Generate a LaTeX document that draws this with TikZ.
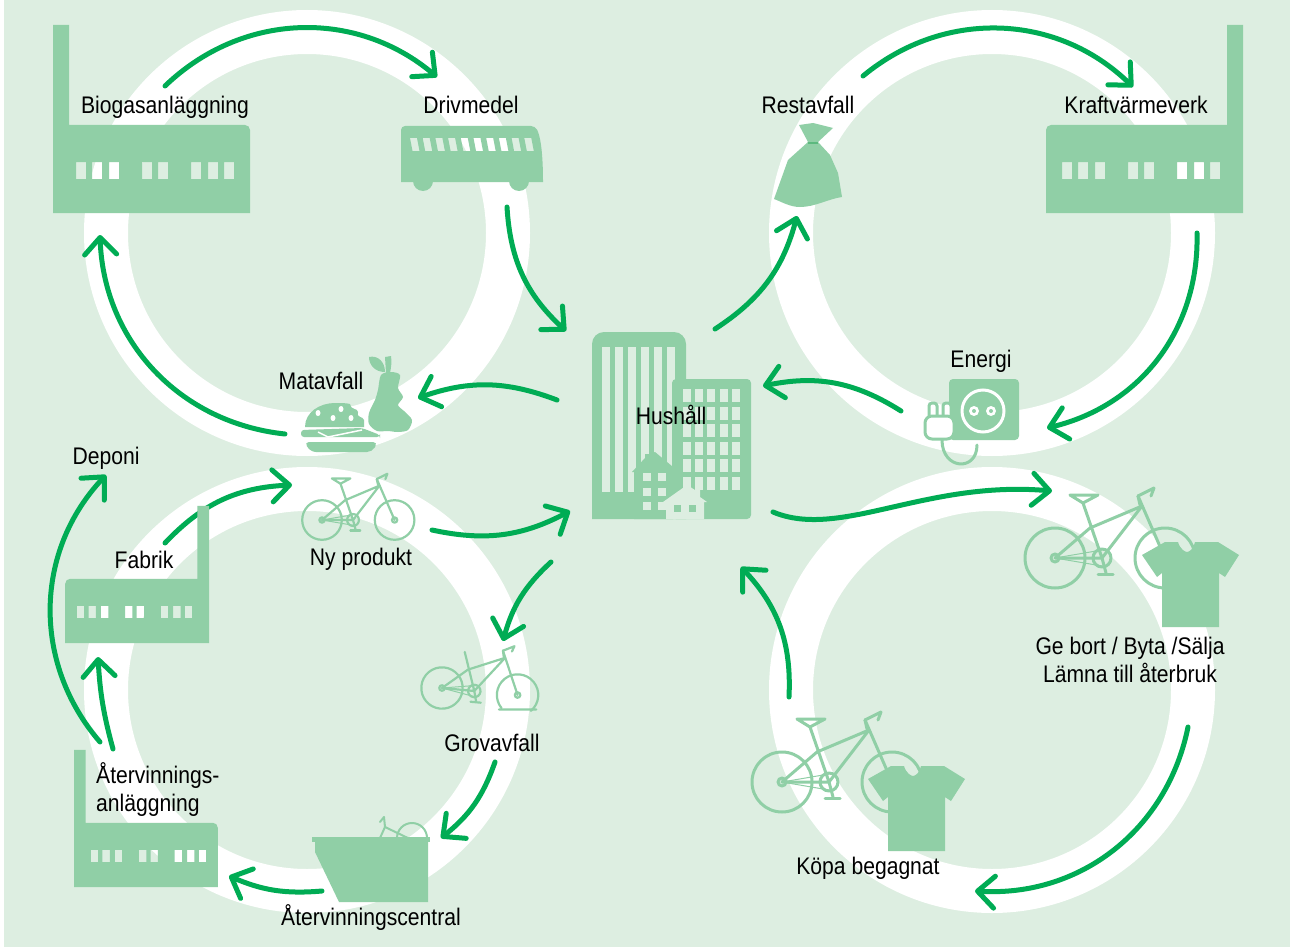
\documentclass[tikz,border=0pt]{standalone}
\usepackage{fontspec}
\setmainfont[FakeStretch=0.88]{Liberation Sans}
\usetikzlibrary{arrows.meta}
\definecolor{bgc}{RGB}{221,238,225}
\definecolor{iconc}{RGB}{144,207,166}
\definecolor{flowc}{RGB}{0,172,84}
\definecolor{tiec}{RGB}{92,185,126}
\tikzset{
	ring/.style={draw=white, line width=44pt},
	flow/.style={->, line width=5pt, line cap=round, line join=round, flowc},
	lbl/.style={inner sep=0pt, anchor=base, black},
	icon/.style={fill=iconc, even odd rule},
	bikeline/.style={draw=iconc, fill=none, line cap=round, line join=round},
	pics/factory/.style={code={
		\fill[icon] (0,0) -- (0,-188) -- (16,-188) -- (16,-88) [rounded corners=5pt] -- (197,-88) [sharp corners] -- (197,0) -- cycle
			\foreach \wx in {23,39,56,89,105,138,155,171} {(\wx,-51) rectangle ++(10,17)};
	}},
	pics/shirt/.style={code={
		\fill[iconc] (20,85) -- (20,31) -- (15,35) -- (0,13) -- (23,0) -- (36,0) .. controls (38,7) and (43,10) .. (45,10) .. controls (47,10) and (52,7) .. (53,0) -- (76,0) -- (97,13) -- (83,35) -- (77,31) -- (77,85) -- cycle;
	}},
	pics/bike/.style={code={
		\bikeframe
		\draw[bikeline] (110,0) circle [radius=30];
		\draw[bikeline] (15,-63) -- (43,-63) -- (28,-55) -- cycle;
	}},
	pics/flatbike/.style={code={
		\bikeframe
		\draw[bikeline] (110,0) ++(135.6:30) arc [start angle=135.6, end angle=404.4, radius=30];
		\draw[bikeline, rotate around={5.3:(110,0)}] (83,21) -- (137,21);
	}},
}
\newcommand{\bikeframe}{
	\draw[bikeline] (0,0) circle [radius=30];
	\draw[bikeline] (47,0) circle [radius=9];
	\draw[bikeline] (0,0) circle [radius=4];
	\draw[bikeline] (110,0) circle [radius=4];
	\draw[bikeline] (28,-55) -- (47,0) -- (87,-52) -- (35,-30) -- (0,0) -- (47,0);
	\draw[bikeline, line width=1pt] (47,-8) -- (0,0) -- (47,8);
	\draw[bikeline] (83,-62) -- (110,0);
	\draw[bikeline] (83,-62) -- (85,-53);
	\draw[bikeline] (83,-62) -- (99,-70) -- (96,-62);
	\draw[bikeline] (47,0) -- (51,15);
	\draw[bikeline] (43,16) -- (58,16);
}
\begin{document}
\begin{tikzpicture}[x=1pt, y=-1pt, >={Straight Barb[length=17pt,width=32pt,round]}]
	\useasboundingbox (0,0) rectangle (1290,947);
	\fill[white] (0,0) rectangle (1290,947);
	\fill[bgc] (4,0) rectangle (1290,947);
	% rings
	\draw[ring] (307,233) circle [radius=201];
	\draw[ring] (992,233) circle [radius=201];
	\draw[ring] (307,690) circle [radius=201];
	\draw[ring] (992,690) circle [radius=201];
	% arrow ends
	\coordinate (biogasOut) at (165,86);
	\coordinate (drivIn) at (437,77);
	\coordinate (drivOut) at (507,207);
	\coordinate (hushIn) at (566,331);
	\coordinate (hushOut) at (557,400);
	\coordinate (matIn) at (418,398);
	\coordinate (matOut) at (285,434);
	\coordinate (biogasIn) at (100,235);
	\coordinate (hushRest) at (715,329);
	\coordinate (restIn) at (797,216);
	\coordinate (restOut) at (863,76);
	\coordinate (kraftIn) at (1133,87);
	\coordinate (kraftOut) at (1197,233);
	\coordinate (energiIn) at (1047,428);
	\coordinate (energiOut) at (901,411);
	\coordinate (hushEnergi) at (763,386);
	\coordinate (hushGe) at (773,512);
	\coordinate (geIn) at (1052,491);
	\coordinate (geOut) at (1188,727);
	\coordinate (kopaIn) at (975,891);
	\coordinate (kopaOut) at (789,697);
	\coordinate (hushKopa) at (741,567);
	\coordinate (nyOut) at (432,530);
	\coordinate (hushNy) at (570,511);
	\coordinate (hushGrov) at (551,562);
	\coordinate (grovIn) at (503,641);
	\coordinate (grovOut) at (495,762);
	\coordinate (centralIn) at (441,838);
	\coordinate (centralOut) at (322,891);
	\coordinate (anlIn) at (229,876);
	\coordinate (anlFabrik) at (113,749);
	\coordinate (fabrikIn) at (98,657);
	\coordinate (anlDeponi) at (100,742);
	\coordinate (deponiIn) at (106,475);
	\coordinate (fabrikOut) at (165,543);
	\coordinate (nyIn) at (292,485);
	% arrows
	\draw[flow] (biogasOut) to[bend left=42] (drivIn);
	\draw[flow] (drivOut) to[bend right=22] (hushIn);
	\draw[flow] (hushOut) to[bend right=20] (matIn);
	\draw[flow] (matOut) to[bend left=41] (biogasIn);
	\draw[flow] (hushRest) to[bend right=21] (restIn);
	\draw[flow] (restOut) to[bend left=42] (kraftIn);
	\draw[flow] (kraftOut) to[bend left=39] (energiIn);
	\draw[flow] (energiOut) to[bend right=22] (hushEnergi);
	\draw[flow] (hushGe) .. controls (840,540) and (925,480) .. (geIn);
	\draw[flow] (geOut) to[bend left=41] (kopaIn);
	\draw[flow] (kopaOut) to[bend right=23] (hushKopa);
	\draw[flow] (nyOut) to[bend right=20] (hushNy);
	\draw[flow] (hushGrov) to[bend right=16] (grovIn);
	\draw[flow] (grovOut) to[bend left=16] (centralIn);
	\draw[flow] (centralOut) to[bend left=14] (anlIn);
	\draw[flow] (anlFabrik) to[bend left=6] (fabrikIn);
	\draw[flow] (anlDeponi) to[bend left=42] (deponiIn);
	\draw[flow] (fabrikOut) to[bend left=22] (nyIn);
	% factories
	\pic at (53,213) {factory};
	\pic[xscale=-1] at (1243,213) {factory};
	\pic[xscale=-0.73, yscale=0.73] at (209,643) {factory};
	\pic[scale=0.73] at (74,887) {factory};
	% bus
	\fill[icon] (401,182) [rounded corners=4pt] -- (401,126) -- (535,126) [sharp corners] .. controls (540,135) and (543,150) .. (543,182) -- cycle
		\foreach \i [evaluate=\i as \wx using 410+12.7*\i] in {0,...,9} {(\wx,138) -- ++(7,0) -- ++(2.5,13) -- ++(-7,0) -- cycle};
	\fill[iconc] (423,181) circle [radius=10];
	\fill[iconc] (519,181) circle [radius=10];
	% bag
	\fill[iconc] (774,199) -- (788,160) -- (808,142) -- (799,125) -- (813,123) -- (833,128) -- (818,142) -- (830,155) -- (838,173) -- (842,197) .. controls (828,199) and (815,207) .. (800,207) .. controls (790,207) and (782,202) .. (774,199) -- cycle;
	\draw[tiec, line width=2pt] (808,143) -- (818,143);
	% socket and plug
	\fill[iconc, rounded corners=4pt] (949,379) rectangle (1019,440);
	\draw[white, line width=3pt] (983,411) circle [radius=21];
	\fill[white] (974,411) circle [radius=5];
	\fill[white] (991,411) circle [radius=5];
	\fill[iconc] (974,411) circle [radius=2];
	\fill[iconc] (991,411) circle [radius=2];
	\draw[iconc, line width=3pt, line cap=round] (942,440) .. controls (942,470) and (977,472) .. (977,445);
	\draw[iconc, fill=white, line width=3pt, rounded corners=3pt] (929,416) -- (929,403) -- (937,403) -- (937,416);
	\draw[iconc, fill=white, line width=3pt, rounded corners=3pt] (943,416) -- (943,403) -- (951,403) -- (951,416);
	\draw[iconc, fill=white, line width=3pt, rounded corners=7pt] (925,416) -- (925,439) -- (954,439) -- (954,416) -- cycle;
	% burger and pear
	\fill[iconc] (305,427) .. controls (305,412) and (320,403) .. (335,403) .. controls (342,403) and (346,403) .. (350,404) .. controls (350,410) and (358,408) .. (358,412) .. controls (356,418) and (363,416) .. (364,420) -- (364,427) -- cycle;
	\foreach \sx/\sy in {318/413,333/418,341/409,351/418}
		\fill[white] (\sx,\sy) ellipse [x radius=2.5, y radius=3];
	\fill[iconc, rounded corners=3pt] (301,430) -- (362,428) -- (380,435) -- (380,437) -- (301,437) -- cycle;
	\draw[white, line width=1.5pt] (318,432) -- (328,437) -- (362,430);
	\fill[iconc, rounded corners=5pt] (304,442) -- (378,442) -- (372,452) -- (311,452) -- cycle;
	\fill[iconc] plot[smooth cycle, tension=0.5] coordinates {(381,375) (378,390) (375,400) (369,413) (369,424) (377,431) (388,431) (398,432) (408,430) (412,420) (404,411) (398,405) (403,397) (398,388) (400,375) (391,372)};
	\fill[iconc] (369,357) .. controls (378,355) and (385,362) .. (385,372) .. controls (375,372) and (369,365) .. (369,357) -- cycle;
	\fill[iconc] (385,357) -- (391,356) .. controls (392,362) and (391,368) .. (390,373) -- (386,373) -- cycle;
	% buildings
	\fill[iconc, rounded corners=12pt] (592,519) -- (592,332) -- (686,332) -- (686,400) [sharp corners] -- (686,519) -- cycle;
	\foreach \wx in {602,615,628,641,654,667}
		\fill[bgc] (\wx,347) rectangle ++(8,145);
	\fill[iconc, rounded corners=4pt] (672,519) -- (672,379) -- (751,379) -- (751,519) -- cycle;
	\foreach \wx in {683,695,707,720,732}
		\foreach \wy in {389,407,424,442,459,477}
			\fill[bgc] (\wx,\wy) rectangle ++(8,13);
	\fill[iconc] (632,472) -- (645,458) -- (645,454) -- (649,454) -- (655,452) -- (673,467) -- (673,519) -- (634,519) -- (634,472) -- cycle;
	\foreach \wx in {643,658}
		\foreach \wy in {473,488,502}
			\fill[bgc] (\wx,\wy) rectangle ++(8,8);
	\fill[bgc] (663,502) -- (687,485) -- (695,490) -- (695,487) -- (700,487) -- (700,497) -- (707,502) -- (704,502) -- (704,519) -- (666,519) -- (666,502) -- cycle;
	\fill[iconc] (674,505) rectangle ++(7,7);
	\fill[iconc] (689,505) rectangle ++(7,7);
	% bikes
	\pic[line width=3pt] at (1055,558) {bike};
	\pic[line width=3pt] at (782,782) {bike};
	\pic[scale=0.66, line width=2.2pt] at (322,520) {bike};
	\pic[scale=0.69, line width=2.2pt, rotate=-5.3] at (442,688) {flatbike};
	% shirts
	\pic at (1142,542) {shirt};
	\pic at (868,766) {shirt};
	% container
	\draw[bikeline, line width=2pt] (412,838) circle [radius=15];
	\draw[bikeline, line width=2pt] (384,817) -- (385,827) -- (412,840);
	\draw[bikeline, line width=2pt] (385,827) -- (380,838);
	\draw[bikeline, line width=2pt] (384,817) -- (380,822);
	\fill[iconc] (312,837) rectangle (430,842);
	\fill[iconc] (315,842) -- (315,852) -- (339,902) -- (428,902) -- (428,842) -- cycle;
	% labels
	\tikzset{every node/.style={font=\fontsize{24}{28}\selectfont}}
	\node[lbl] (biogas) at (165,114) {Biogasanläggning};
	\node[lbl] (drivmedel) at (471,114) {Drivmedel};
	\node[lbl] (restavfall) at (808,114) {Restavfall};
	\node[lbl] (kraft) at (1136,114) {Kraftvärmeverk};
	\node[lbl] (energi) at (981,367) {Energi};
	\node[lbl] (matavfall) at (321,389) {Matavfall};
	\node[lbl] (hushall) at (671,424) {Hushåll};
	\node[lbl] (deponi) at (106,464) {Deponi};
	\node[lbl] (fabrik) at (144,568) {Fabrik};
	\node[lbl] (nyprodukt) at (361,565) {Ny produkt};
	\node[lbl] (gebort) at (1130,654) {Ge bort / Byta /Sälja};
	\node[lbl] (lamna) at (1130,682) {Lämna till återbruk};
	\node[lbl] (kopa) at (868,874) {Köpa begagnat};
	\node[lbl] (grovavfall) at (492,751) {Grovavfall};
	\node[lbl, anchor=base west] (atervinnings) at (96,783) {Återvinnings-};
	\node[lbl, anchor=base west] (anlaggning) at (96,811) {anläggning};
	\node[lbl] (central) at (371,925) {Återvinningscentral};
\end{tikzpicture}
\end{document}
